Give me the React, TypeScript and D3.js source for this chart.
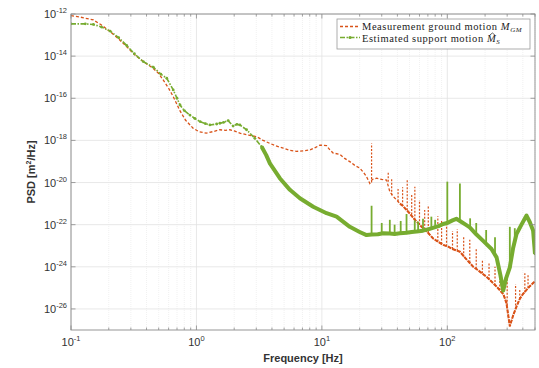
import React, { useRef, useEffect } from "react";
import * as d3 from "d3";

const measFreq = [
  0.1, 0.12, 0.151, 0.175, 0.205, 0.24, 0.278, 0.32, 0.377, 0.453, 0.5, 0.543,
  0.6, 0.653, 0.7, 0.74, 0.82, 0.944, 1.05, 1.2, 1.35, 1.54, 1.7, 1.85, 2.0,
  2.22, 2.6, 3.02, 3.4, 3.85, 4.3, 4.92, 5.5, 6.28, 7.1, 8.02, 9.0, 9.64, 10.9,
  11.6, 12.3, 13.9, 15.2, 16.7, 18.3, 20.1, 21.5, 22.7, 24.1, 25.2, 27.3, 30,
  32.8, 34.8, 37, 39.4, 41.9, 44, 47.3, 50, 55.1, 60, 64.1, 70.5, 77.1, 85,
  92.5, 101.4, 110, 126, 140, 161, 175, 205, 225, 247, 280, 296, 315, 335, 356,
  378, 400, 428, 455, 483, 500,
];
const measPsd = [
  8.3e-13, 7.0e-13, 5.2e-13, 3.0e-13, 1.45e-13, 6.5e-14, 2.8e-14, 1.2e-14,
  5.5e-15, 2.6e-15, 1.5e-15, 7.4e-16, 3.0e-16, 1.2e-16, 5.0e-17, 2.5e-17,
  9.0e-18, 3.7e-18, 2.6e-18, 2.2e-18, 2.6e-18, 3.2e-18, 3.0e-18, 3.2e-18,
  2.8e-18, 2.2e-18, 1.8e-18, 1.5e-18, 1.0e-18, 7.2e-19, 5.5e-19, 4.3e-19,
  3.4e-19, 3.0e-19, 3.2e-19, 3.5e-19, 4.8e-19, 6.0e-19, 5.6e-19, 3.5e-19,
  2.5e-19, 2.2e-19, 1.4e-19, 9.8e-20, 6.5e-20, 4.8e-20, 3.0e-20, 1.9e-20,
  9.1e-21, 1.4e-20, 1.6e-20, 1.4e-20, 1.3e-20, 3.7e-21, 2.2e-21, 1.5e-21,
  1.0e-21, 8.0e-22, 5.0e-22, 3.5e-22, 1.7e-22, 1.0e-22, 6.8e-23, 4.0e-23,
  2.2e-23, 1.5e-23, 1.1e-23, 9.1e-24, 7.0e-24, 5.2e-24, 2.5e-24, 1.0e-24,
  7.0e-25, 3.4e-25, 2.0e-25, 1.15e-25, 5.0e-26, 1.9e-26, 1.5e-27, 5.0e-27,
  1.3e-26, 3.0e-26, 5.0e-26, 8.0e-26, 1.2e-25, 1.7e-25, 2.0e-25,
];
const measSpikeFreq = [
  24.9, 33.8, 36, 40.5, 44, 47.9, 52, 55.1, 60, 66, 70.5, 84, 90, 98.6, 110,
  120, 135, 151, 170, 190.5, 215, 240, 262, 300, 350, 378, 415, 440,
];
const measSpikeBase = [
  1.0e-20, 1.1e-20, 2.5e-21, 1.3e-21, 8.0e-22, 4.8e-22, 3.0e-22, 1.7e-22,
  1.0e-22, 6.0e-23, 4.0e-23, 1.6e-23, 1.2e-23, 9.5e-24, 7.0e-24, 5.8e-24,
  3.0e-24, 1.6e-24, 8.0e-25, 5.0e-25, 2.5e-25, 1.3e-25, 8.0e-26, 1.5e-26,
  1.0e-26, 3.0e-26, 6.0e-26, 1.0e-25,
];
const measSpikeTop = [
  7.2e-19, 3.3e-20, 1.5e-20, 5.0e-21, 6.0e-21, 1.3e-20, 3.0e-21, 6.3e-21,
  1.5e-21, 5.0e-22, 8.5e-22, 2.5e-22, 1.5e-22, 1.2e-22, 5.0e-23, 6.0e-23,
  3.0e-23, 1.9e-23, 8.0e-24, 2.1e-24, 1.5e-24, 1.0e-24, 4.9e-25, 3.0e-25,
  1.5e-25, 8.0e-26, 5.0e-25, 4.0e-25,
];

// Estimated support motion PSD
const estFreq = [
  0.1, 0.13, 0.151, 0.175, 0.205, 0.24, 0.278, 0.32, 0.377, 0.453, 0.52, 0.58,
  0.653, 0.7, 0.74, 0.8, 0.887, 0.97, 1.07, 1.18, 1.28, 1.45, 1.54, 1.65, 1.79,
  1.96, 2.1, 2.22, 2.51, 2.92, 3.31, 3.6, 3.85, 4.62, 5.56, 6.68, 8.53, 10.9,
  13.1, 16.7, 20, 22.7, 25, 28, 30.8, 34.8, 38, 41.9, 47.3, 52, 56.9, 64, 72.4,
  85, 92.5, 100, 110, 118, 126, 140, 151, 170, 193, 225, 247, 265, 279, 295,
  315, 335, 356, 390, 428, 455, 483, 500,
];
const estPsd = [
  3.4e-13, 3.4e-13, 3.2e-13, 2.4e-13, 1.55e-13, 7.5e-14, 3.2e-14, 1.3e-14,
  5.5e-15, 3.0e-15, 1.4e-15, 8.9e-16, 2.5e-16, 1.0e-16, 4.8e-17, 2.6e-17,
  1.6e-17, 1.1e-17, 7.8e-18, 6.2e-18, 5.4e-18, 6.0e-18, 6.5e-18, 7.2e-18,
  8.7e-18, 4.8e-18, 5.8e-18, 5.4e-18, 3.2e-18, 1.26e-18, 5.0e-19, 2.0e-19,
  8.1e-20, 1.6e-20, 4.5e-21, 1.8e-21, 7.1e-22, 3.5e-22, 2.4e-22, 7.9e-23,
  4.5e-23, 3.2e-23, 3.4e-23, 3.5e-23, 3.9e-23, 3.8e-23, 3.6e-23, 3.9e-23,
  4.1e-23, 4.5e-23, 4.7e-23, 5.2e-23, 6.3e-23, 8.5e-23, 1.07e-22, 1.2e-22,
  1.6e-22, 1.9e-22, 1.5e-22, 1.0e-22, 7.4e-23, 3.5e-23, 1.7e-23, 7.0e-24,
  2.8e-24, 4.0e-25, 7.4e-26, 3.0e-25, 9.5e-25, 8.0e-24, 3.6e-23, 1.0e-22,
  2.7e-22, 1.3e-22, 5.2e-23, 4.1e-24,
];
const estSpikeFreq = [
  24.9, 30, 34.8, 38, 42.5, 47.3, 55, 58.5, 64, 74.6, 80, 100, 126, 152, 170,
  204, 240, 315, 345,
];
const estSpikeBase = [
  3.4e-23, 3.8e-23, 3.8e-23, 3.6e-23, 3.9e-23, 4.1e-23, 4.6e-23, 4.8e-23,
  5.2e-23, 6.5e-23, 7.5e-23, 1.2e-22, 1.5e-22, 7.3e-23, 3.5e-23, 1.4e-23,
  3.5e-24, 9.5e-25, 1.2e-23,
];
const estSpikeTop = [
  7.9e-22, 1.2e-22, 1.7e-22, 1.0e-22, 1.5e-22, 3.2e-22, 1.6e-22, 1.4e-22,
  1.9e-22, 2.4e-22, 1.7e-22, 1.1e-20, 9.1e-21, 2.0e-22, 1.2e-22, 5.6e-23,
  2.5e-23, 7.9e-23, 6.8e-23,
];

const xTickExps = [-1, 0, 1, 2];
const yTickExps = [-26, -24, -22, -20, -18, -16, -14, -12];

const RED = "#D95319";
const GREEN = "#77AC30";

export default function App() {
  const ref = useRef<SVGSVGElement>(null);

  useEffect(() => {
    const width = 539;
    const height = 368;
    const margin = { top: 14, right: 4, bottom: 38, left: 71 };

    const svg = d3.select(ref.current);
    svg.selectAll("*").remove();
    svg.attr("width", width).attr("height", height);

    const x = d3
      .scaleLog()
      .domain([0.1, 500])
      .range([margin.left, width - margin.right]);
    const y = d3
      .scaleLog()
      .domain([1e-27, 1e-12])
      .range([height - margin.bottom, margin.top]);

    const [x0, x1] = x.range();
    const [y0, y1] = y.range();

    svg.append("rect").attr("width", width).attr("height", height).attr("fill", "#fff");

    // minor x values
    const minorX: number[] = [];
    [0.1, 1, 10, 100].forEach((d) => {
      for (let k = 2; k <= 9; k++) if (k * d <= 500) minorX.push(k * d);
    });

    // Grid
    const grid = svg.append("g");
    grid
      .selectAll("line.minor")
      .data(minorX)
      .join("line")
      .attr("x1", (d) => x(d))
      .attr("x2", (d) => x(d))
      .attr("y1", y1)
      .attr("y2", y0)
      .attr("stroke", "#e8e8e8")
      .attr("stroke-width", 0.6)
      .attr("stroke-dasharray", "1,1");
    grid
      .selectAll("line.majx")
      .data(xTickExps)
      .join("line")
      .attr("x1", (d) => x(10 ** d))
      .attr("x2", (d) => x(10 ** d))
      .attr("y1", y1)
      .attr("y2", y0)
      .attr("stroke", "#e2e2e2")
      .attr("stroke-width", 0.8);
    grid
      .selectAll("line.majy")
      .data(yTickExps)
      .join("line")
      .attr("x1", x0)
      .attr("x2", x1)
      .attr("y1", (d) => y(10 ** d))
      .attr("y2", (d) => y(10 ** d))
      .attr("stroke", "#e2e2e2")
      .attr("stroke-width", 0.8);

    // Clip
    svg
      .append("clipPath")
      .attr("id", "plotclip")
      .append("rect")
      .attr("x", x0)
      .attr("y", y1)
      .attr("width", x1 - x0)
      .attr("height", y0 - y1);

    const plot = svg.append("g").attr("clip-path", "url(#plotclip)");

    const line = d3
      .line<[number, number]>()
      .x((d) => x(d[0]))
      .y((d) => y(d[1]));

    const meas: [number, number][] = measFreq.map((f, i) => [f, measPsd[i]]);
    const est: [number, number][] = estFreq.map((f, i) => [f, estPsd[i]]);

    // Measurement ground motion
    plot
      .append("path")
      .datum(meas)
      .attr("fill", "none")
      .attr("stroke", RED)
      .attr("stroke-width", 1.3)
      .attr("stroke-dasharray", "3,2")
      .attr("d", line);
    plot
      .append("path")
      .datum(meas.filter((d) => d[0] >= 40))
      .attr("fill", "none")
      .attr("stroke", RED)
      .attr("stroke-width", 2)
      .attr("stroke-dasharray", "4,1")
      .attr("d", line);
    plot
      .selectAll("line.mspike")
      .data(measSpikeFreq)
      .join("line")
      .attr("x1", (d) => x(d))
      .attr("x2", (d) => x(d))
      .attr("y1", (d, i) => y(measSpikeBase[i]))
      .attr("y2", (d, i) => y(measSpikeTop[i]))
      .attr("stroke", RED)
      .attr("stroke-width", 1.2)
      .attr("stroke-dasharray", "2,1.5");

    // Estimated support motion
    plot
      .append("path")
      .datum(est)
      .attr("fill", "none")
      .attr("stroke", GREEN)
      .attr("stroke-width", 1.6)
      .attr("stroke-dasharray", "5,1.5,1.5,1.5")
      .attr("d", line);
    plot
      .append("path")
      .datum(est.filter((d) => d[0] >= 3.3))
      .attr("fill", "none")
      .attr("stroke", GREEN)
      .attr("stroke-width", 4)
      .attr("stroke-linejoin", "round")
      .attr("d", line);
    plot
      .selectAll("circle.est")
      .data(est)
      .join("circle")
      .attr("cx", (d) => x(d[0]))
      .attr("cy", (d) => y(d[1]))
      .attr("r", 1.4)
      .attr("fill", GREEN);
    plot
      .selectAll("line.espike")
      .data(estSpikeFreq)
      .join("line")
      .attr("x1", (d) => x(d))
      .attr("x2", (d) => x(d))
      .attr("y1", (d, i) => y(estSpikeBase[i]))
      .attr("y2", (d, i) => y(estSpikeTop[i]))
      .attr("stroke", GREEN)
      .attr("stroke-width", 1.8);

    // Box and ticks
    const axisColor = "#8a8a8a";
    svg
      .append("rect")
      .attr("x", x0)
      .attr("y", y1)
      .attr("width", x1 - x0)
      .attr("height", y0 - y1)
      .attr("fill", "none")
      .attr("stroke", axisColor)
      .attr("stroke-width", 0.9);

    const ticks = svg.append("g").attr("stroke", axisColor).attr("stroke-width", 0.8);
    [y0, y1].forEach((yy) => {
      const dir = yy === y0 ? -1 : 1;
      minorX.forEach((v) => {
        ticks.append("line").attr("x1", x(v)).attr("x2", x(v)).attr("y1", yy).attr("y2", yy + dir * 2.5);
      });
      xTickExps.forEach((e) => {
        ticks.append("line").attr("x1", x(10 ** e)).attr("x2", x(10 ** e)).attr("y1", yy).attr("y2", yy + dir * 4.5);
      });
    });
    [x0, x1].forEach((xx) => {
      const dir = xx === x0 ? 1 : -1;
      yTickExps.forEach((e) => {
        ticks.append("line").attr("x1", xx).attr("x2", xx + dir * 4.5).attr("y1", y(10 ** e)).attr("y2", y(10 ** e));
      });
    });

    // Tick labels
    const tickFont = "'Liberation Sans', Arial, sans-serif";
    const xl = svg
      .selectAll("text.xt")
      .data(xTickExps)
      .join("text")
      .attr("x", (d) => x(10 ** d))
      .attr("y", y0 + 16)
      .attr("text-anchor", "middle")
      .attr("font-family", tickFont)
      .attr("font-size", 11)
      .attr("fill", "#333");
    xl.append("tspan").text("10");
    xl.append("tspan").attr("font-size", 7.5).attr("dy", -5).text((d) => `${d}`);

    const yl = svg
      .selectAll("text.yt")
      .data(yTickExps)
      .join("text")
      .attr("x", x0 - 4)
      .attr("y", (d) => y(10 ** d) + 4)
      .attr("text-anchor", "end")
      .attr("font-family", tickFont)
      .attr("font-size", 11)
      .attr("fill", "#333");
    yl.append("tspan").text("10");
    yl.append("tspan").attr("font-size", 7.5).attr("dy", -5).text((d) => `${d}`);

    // Axis labels
    svg
      .append("text")
      .attr("x", (x0 + x1) / 2)
      .attr("y", 362)
      .attr("text-anchor", "middle")
      .attr("font-family", tickFont)
      .attr("font-size", 11)
      .attr("font-weight", "bold")
      .attr("fill", "#333")
      .text("Frequency [Hz]");

    const ylab = svg
      .append("text")
      .attr("transform", `translate(35,${(y0 + y1) / 2}) rotate(-90)`)
      .attr("text-anchor", "middle")
      .attr("font-family", tickFont)
      .attr("font-size", 11)
      .attr("font-weight", "bold")
      .attr("fill", "#333");
    ylab.append("tspan").text("PSD [m");
    ylab.append("tspan").attr("font-size", 7).attr("dy", -4).text("2");
    ylab.append("tspan").attr("dy", 4).text("/Hz]");

    // Legend
    const serif = "'Liberation Serif', 'DejaVu Serif', serif";
    const lg = svg.append("g");
    lg.append("rect")
      .attr("x", 337)
      .attr("y", 19)
      .attr("width", 193)
      .attr("height", 30)
      .attr("fill", "#fff")
      .attr("stroke", "#999")
      .attr("stroke-width", 0.8);
    lg.append("line")
      .attr("x1", 340)
      .attr("x2", 360)
      .attr("y1", 26.5)
      .attr("y2", 26.5)
      .attr("stroke", RED)
      .attr("stroke-width", 1.3)
      .attr("stroke-dasharray", "3,2");
    lg.append("line")
      .attr("x1", 340)
      .attr("x2", 360)
      .attr("y1", 37.5)
      .attr("y2", 37.5)
      .attr("stroke", GREEN)
      .attr("stroke-width", 1.3)
      .attr("stroke-dasharray", "5,1.5,1.5,1.5");
    lg.append("circle").attr("cx", 350).attr("cy", 37.5).attr("r", 1.6).attr("fill", GREEN);

    const t1 = lg
      .append("text")
      .attr("x", 362)
      .attr("y", 30)
      .attr("font-family", serif)
      .attr("font-size", 10.5)
      .attr("letter-spacing", 0.55)
      .attr("fill", "#222");
    t1.append("tspan").text("Measurement ground motion ");
    t1.append("tspan").attr("font-style", "italic").text("M");
    t1.append("tspan").attr("font-style", "italic").attr("font-size", 7).attr("dy", 2).text("GM");

    const t2 = lg
      .append("text")
      .attr("x", 362)
      .attr("y", 41.5)
      .attr("font-family", serif)
      .attr("font-size", 10.5)
      .attr("letter-spacing", 0.55)
      .attr("fill", "#222");
    const t2a = t2.append("tspan").text("Estimated support motion ");
    t2.append("tspan").attr("font-style", "italic").text("M");
    t2.append("tspan").attr("font-style", "italic").attr("font-size", 7).attr("dy", 2).text("S");

    // hat over M (drawn as a small path)
    const preLen = (t2a.node() as SVGTextContentElement).getComputedTextLength();
    const hx = 362 + preLen + 5.5;
    lg.append("path")
      .attr("d", `M${hx - 2.5},35 L${hx},33 L${hx + 2.5},35`)
      .attr("fill", "none")
      .attr("stroke", "#222")
      .attr("stroke-width", 0.7);
  }, []);

  return (
    <svg
      ref={ref}
      width={539}
      height={368}
      style={{ position: "absolute", left: 0, top: 0 }}
    />
  );
}
